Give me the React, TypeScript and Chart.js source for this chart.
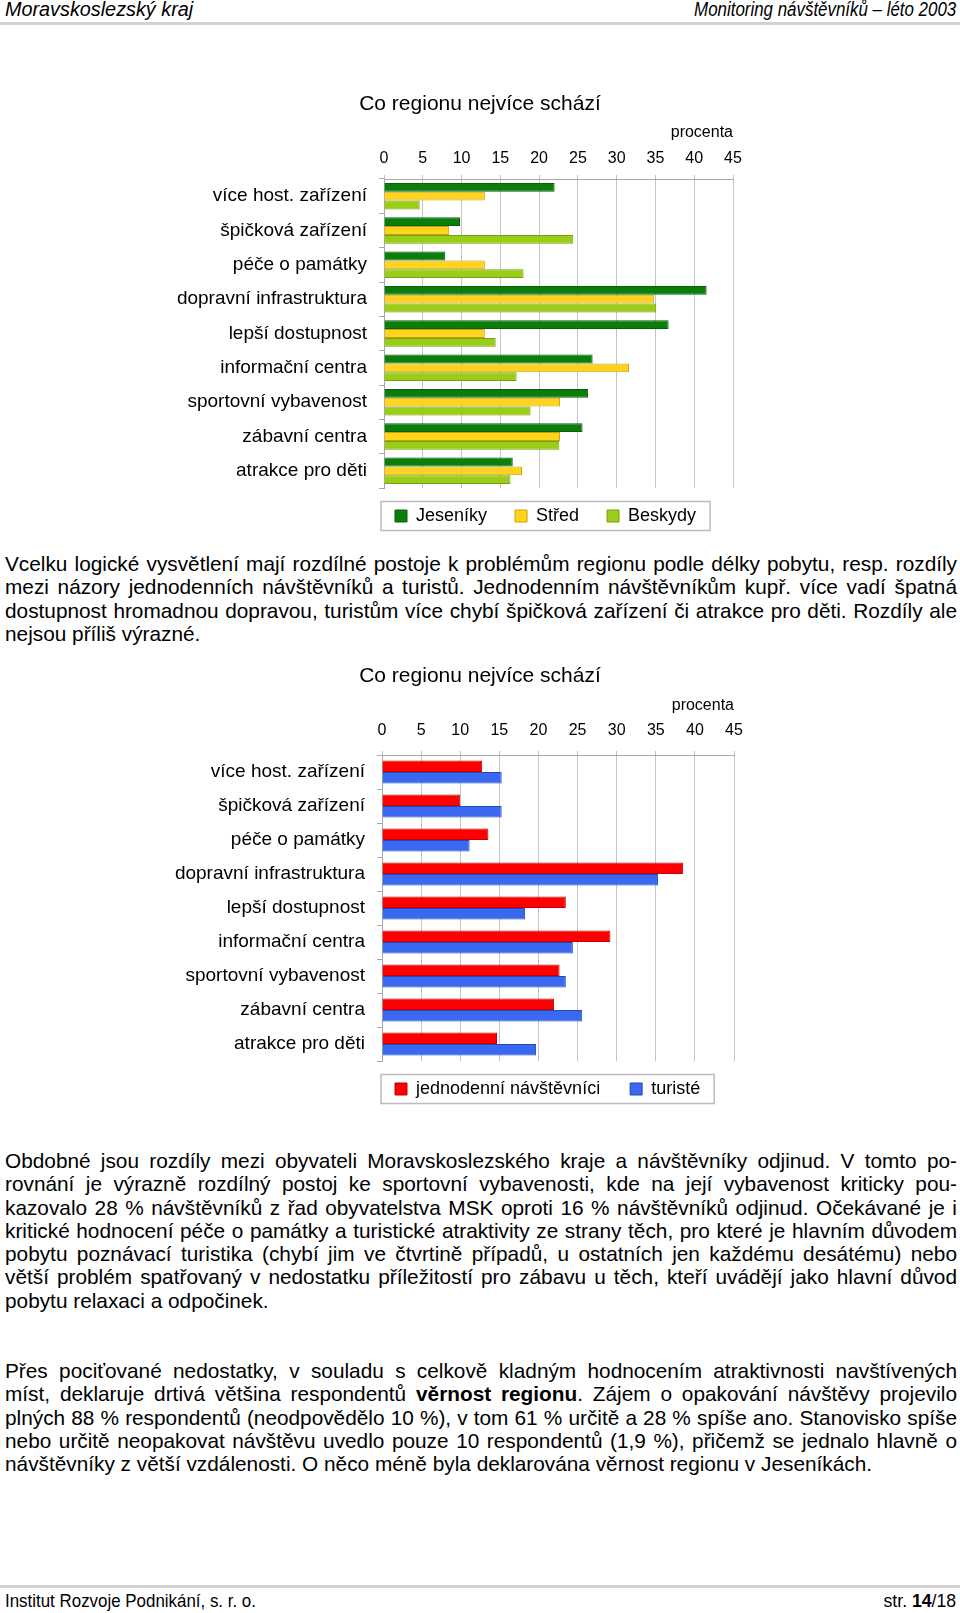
import React, { useEffect, useRef } from "react";
import { Chart, registerables } from "chart.js";
Chart.register(...registerables);

const FONT = '"Liberation Sans", Arial, sans-serif';

// ---- data ----
const categories = [
  "více host. zařízení",
  "špičková zařízení",
  "péče o památky",
  "dopravní infrastruktura",
  "lepší dostupnost",
  "informační centra",
  "sportovní vybavenost",
  "zábavní centra",
  "atrakce pro děti",
];
const xTicks = [0, 5, 10, 15, 20, 25, 30, 35, 40, 45];
const chartTitle = "Co regionu nejvíce schází";
const axisTitle = "procenta";

const jeseniky = [22.0, 9.8, 7.9, 41.6, 36.7, 26.9, 26.3, 25.6, 16.6];
const stred = [13.0, 8.4, 13.0, 34.8, 13.0, 31.6, 22.7, 22.7, 17.8];
const beskydy = [4.6, 24.4, 18.0, 35.1, 14.4, 17.1, 18.9, 22.6, 16.3];

const jednodenni = [12.8, 10.0, 13.6, 38.5, 23.5, 29.2, 22.7, 22.0, 14.7];
const turiste = [15.3, 15.3, 11.2, 35.3, 18.3, 24.4, 23.5, 25.6, 19.7];

// ---- text ----
const para1 = [
  "Vcelku logické vysvětlení mají rozdílné postoje k\u00a0problémům regionu podle délky pobytu, resp. rozdíly",
  "mezi názory jednodenních návštěvníků a turistů. Jednodenním návštěvníkům kupř. více vadí špatná",
  "dostupnost hromadnou dopravou, turistům více chybí špičková zařízení či atrakce pro děti. Rozdíly ale",
  "nejsou příliš výrazné.",
];
const para2 = [
  "Obdobné jsou rozdíly mezi obyvateli Moravskoslezského kraje a návštěvníky odjinud. V\u00a0tomto po-",
  "rovnání je výrazně rozdílný postoj ke sportovní vybavenosti, kde na její vybavenost kriticky pou-",
  "kazovalo 28 % návštěvníků z\u00a0řad obyvatelstva MSK oproti 16 % návštěvníků odjinud. Očekávané je i",
  "kritické hodnocení péče o památky a turistické atraktivity ze strany těch, pro které je hlavním důvodem",
  "pobytu poznávací turistika (chybí jim ve čtvrtině případů, u ostatních jen každému desátému) nebo",
  "větší problém spatřovaný v\u00a0nedostatku příležitostí pro zábavu u těch, kteří uvádějí jako hlavní důvod",
  "pobytu relaxaci a odpočinek.",
];
const para3 = [
  "Přes pociťované nedostatky, v\u00a0souladu s\u00a0celkově kladným hodnocením atraktivnosti navštívených",
  "míst, deklaruje drtivá většina respondentů **věrnost regionu**. Zájem o opakování návštěvy projevilo",
  "plných 88 % respondentů (neodpovědělo 10 %), v tom 61 % určitě a 28 % spíše ano. Stanovisko spíše",
  "nebo určitě neopakovat návštěvu uvedlo pouze 10 respondentů (1,9 %), přičemž se jednalo hlavně o",
  "návštěvníky z větší vzdálenosti. O něco méně byla deklarována věrnost regionu v\u00a0Jeseníkách.",
];

type Cfg = {
  top: number;
  height: number;
  left: number;
  right: number;
  catPct: number;
  titlePadTop: number;
  xHeight: number;
  axisTitlePad: number;
  tickPad: number;
  legPad: number;
  legLeft: number;
  legCenter: number;
  datasets: any[];
};

function buildConfig(o: Cfg): any {
  const legendFrame = {
    id: "legendFrame",
    afterLayout(chart: any) {
      const lg = chart.legend;
      if (!lg) return;
      lg.left = o.legLeft - o.legPad;
      lg.top = o.legCenter - o.top - o.legPad - 9;
    },
    afterDraw(chart: any) {
      const lg = chart.legend;
      if (!lg || !lg.legendHitBoxes || !lg.legendHitBoxes.length) return;
      const hb = lg.legendHitBoxes;
      const first = hb[0];
      const last = hb[hb.length - 1];
      const x0 = first.left - 14;
      const x1 = last.left + last.width + 14;
      const cy = first.top + first.height / 2;
      const ctx = chart.ctx;
      ctx.save();
      ctx.strokeStyle = "#bcbcbc";
      ctx.lineWidth = 1.5;
      ctx.strokeRect(x0, cy - 14.5, x1 - x0, 29);
      ctx.restore();
    },
  };
  return {
    type: "bar",
    data: { labels: categories, datasets: o.datasets },
    plugins: [legendFrame],
    options: {
      indexAxis: "y",
      animation: false,
      responsive: false,
      maintainAspectRatio: false,
      devicePixelRatio: 1,
      layout: { padding: 0 },
      datasets: { bar: { barPercentage: 1, categoryPercentage: o.catPct } },
      scales: {
        x: {
          type: "linear",
          position: "top",
          min: 0,
          max: 45,
          afterBuildTicks: (s: any) => {
            s.ticks = xTicks.map((v) => ({ value: v }));
          },
          afterFit: (s: any) => {
            s.height = o.xHeight;
          },
          ticks: {
            font: { family: FONT, size: 16 },
            color: "#000",
            padding: o.tickPad,
            maxRotation: 0,
            autoSkip: false,
          },
          grid: { color: "#c4c4c4", lineWidth: 1, tickLength: 4, drawTicks: true },
          border: { display: true, color: "#a8a8a8", width: 1 },
          title: {
            display: true,
            text: axisTitle,
            align: "end",
            font: { family: FONT, size: 16 },
            color: "#000",
            padding: { top: o.axisTitlePad, bottom: 0 },
          },
        },
        y: {
          afterFit: (s: any) => {
            s.width = o.left;
          },
          ticks: {
            font: { family: FONT, size: 19 },
            color: "#000",
            padding: 12,
            autoSkip: false,
          },
          grid: { drawOnChartArea: false, tickLength: 5, color: "#a8a8a8", offset: true },
          border: { display: true, color: "#a8a8a8", width: 1 },
        },
        yR: {
          type: "linear",
          position: "right",
          display: true,
          afterFit: (s: any) => {
            s.width = 960 - o.right;
          },
          ticks: { display: false },
          grid: { display: false, drawTicks: false },
          border: { display: false },
        },
      },
      plugins: {
        title: {
          display: true,
          text: chartTitle,
          font: { family: FONT, size: 21, weight: "normal" },
          color: "#000",
          padding: { top: o.titlePadTop, bottom: 0 },
        },
        legend: {
          display: true,
          position: "bottom",
          align: "start",
          labels: {
            boxWidth: 12,
            boxHeight: 12,
            font: { family: FONT, size: 18 },
            color: "#000",
            padding: o.legPad,
          },
        },
        tooltip: { enabled: false },
      },
    },
  };
}

const cfg1: Cfg = {
  top: 82,
  height: 462,
  left: 384,
  right: 733,
  catPct: 0.77,
  titlePadTop: 10,
  xHeight: 61.8,
  axisTitlePad: 6.2,
  tickPad: 7,
  legPad: 28,
  legLeft: 395,
  legCenter: 516,
  datasets: [
    { label: "Jeseníky", data: jeseniky, backgroundColor: "#0b7d0b", borderColor: "#076007", borderWidth: 1 },
    { label: "Střed", data: stred, backgroundColor: "#ffd320", borderColor: "#caa200", borderWidth: 1 },
    { label: "Beskydy", data: beskydy, backgroundColor: "#9acd18", borderColor: "#74a00c", borderWidth: 1 },
  ],
};

const cfg2: Cfg = {
  top: 654,
  height: 465,
  left: 382,
  right: 734,
  catPct: 0.68,
  titlePadTop: 10,
  xHeight: 65.8,
  axisTitlePad: 7.2,
  tickPad: 10.4,
  legPad: 30,
  legLeft: 395,
  legCenter: 1089,
  datasets: [
    { label: "jednodenní návštěvníci", data: jednodenni, backgroundColor: "#ff0000", borderColor: "#c40000", borderWidth: 1 },
    { label: "turisté", data: turiste, backgroundColor: "#3b68f0", borderColor: "#2648b8", borderWidth: 1 },
  ],
};

function BarChart({ cfg }: { cfg: Cfg }) {
  const ref = useRef<HTMLCanvasElement>(null);
  useEffect(() => {
    const chart = new Chart(ref.current as HTMLCanvasElement, buildConfig(cfg));
    return () => chart.destroy();
  }, [cfg]);
  return (
    <canvas
      ref={ref}
      width={960}
      height={cfg.height}
      style={{ position: "absolute", left: 0, top: cfg.top, width: 960, height: cfg.height, display: "block" }}
    />
  );
}

function Line({ text, last }: { text: string; last: boolean }) {
  const parts = text.split("**");
  return (
    <div style={{ textAlign: "justify", textAlignLast: last ? "left" : "justify", whiteSpace: "normal" }}>
      {parts.map((p, i) => (i % 2 === 1 ? <b key={i}>{p}</b> : <span key={i}>{p}</span>))}
    </div>
  );
}

function Paragraph({ lines, top }: { lines: string[]; top: number }) {
  return (
    <div
      style={{
        position: "absolute",
        left: 5,
        width: 952,
        top,
        fontFamily: FONT,
        fontSize: 20.8,
        lineHeight: "23.25px",
        color: "#000",
      }}
    >
      {lines.map((l, i) => (
        <Line key={i} text={l} last={i === lines.length - 1} />
      ))}
    </div>
  );
}

const narrowText = (origin: string, sx: number): React.CSSProperties => ({
  display: "inline-block",
  transform: `scaleX(${sx})`,
  transformOrigin: origin,
  whiteSpace: "nowrap",
});

export default function App() {
  useEffect(() => {
    document.body.style.margin = "0";
  }, []);
  return (
    <div style={{ position: "absolute", left: 0, top: 0, width: 960, height: 1613, background: "#fff", overflow: "hidden" }}>
      <div style={{ position: "absolute", left: 5, top: -2, fontFamily: FONT, fontStyle: "italic", fontSize: 20, lineHeight: "22px", color: "#000" }}>
        <span style={narrowText("left center", 0.99)}>Moravskoslezský kraj</span>
      </div>
      <div style={{ position: "absolute", right: 4, top: -2, fontFamily: FONT, fontStyle: "italic", fontSize: 20, lineHeight: "22px", color: "#000", textAlign: "right" }}>
        <span style={narrowText("right center", 0.845)}>Monitoring návštěvníků – léto 2003</span>
      </div>
      <div style={{ position: "absolute", left: 0, top: 22, width: 960, height: 3, background: "#d2d2d2" }} />

      <BarChart cfg={cfg1} />

      <Paragraph lines={para1} top={552} />

      <BarChart cfg={cfg2} />

      <Paragraph lines={para2} top={1149} />
      <Paragraph lines={para3} top={1359} />

      <div style={{ position: "absolute", left: 0, top: 1585, width: 960, height: 3, background: "#d2d2d2" }} />
      <div style={{ position: "absolute", left: 5, top: 1590, fontFamily: FONT, fontSize: 19, lineHeight: "22px", color: "#000" }}>
        <span style={narrowText("left center", 0.89)}>Institut Rozvoje Podnikání, s. r. o.</span>
      </div>
      <div style={{ position: "absolute", right: 4, top: 1590, fontFamily: FONT, fontSize: 19, lineHeight: "22px", color: "#000", textAlign: "right" }}>
        <span style={narrowText("right center", 0.93)}>
          str. <b>14</b>/18
        </span>
      </div>
    </div>
  );
}
